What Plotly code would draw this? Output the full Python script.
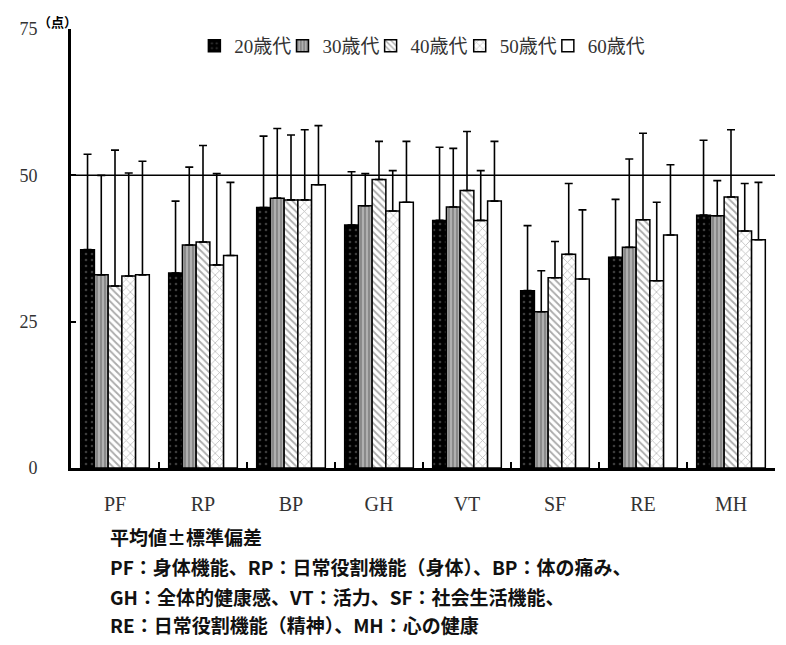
import plotly.graph_objects as go

categories = ["PF", "RP", "BP", "GH", "VT", "SF", "RE", "MH"]
age_groups = ["20歳代", "30歳代", "40歳代", "50歳代", "60歳代"]

mean_20s = [37.3, 33.3, 44.5, 41.5, 42.3, 30.3, 36.0, 43.2]
mean_30s = [33.0, 38.1, 46.1, 44.8, 44.6, 26.7, 37.7, 43.1]
mean_40s = [31.1, 38.6, 45.8, 49.3, 47.4, 32.5, 42.4, 46.3]
mean_50s = [32.8, 34.7, 45.8, 43.9, 42.3, 36.5, 32.0, 40.5]
mean_60s = [33.0, 36.3, 48.4, 45.4, 45.6, 32.3, 39.8, 39.0]

sd_20s = [16.3, 12.3, 12.2, 9.1, 12.5, 11.1, 9.9, 12.8]
sd_30s = [17.0, 13.3, 11.9, 5.5, 10.0, 7.0, 15.1, 6.0]
sd_40s = [23.2, 16.5, 11.1, 6.5, 10.1, 6.2, 14.8, 11.5]
sd_50s = [17.6, 15.6, 12.0, 6.9, 8.5, 12.1, 13.4, 8.1]
sd_60s = [19.4, 12.5, 10.1, 10.4, 10.2, 11.8, 12.0, 9.8]

y_ticks = [0, 25, 50, 75]
reference_line = 50
unit_label = "（点）"
note_lines = [
    "平均値±標準偏差",
    "PF：身体機能、RP：日常役割機能（身体）、BP：体の痛み、",
    "GH：全体的健康感、VT：活力、SF：社会生活機能、",
    "RE：日常役割機能（精神）、MH：心の健康",
]

means = [mean_20s, mean_30s, mean_40s, mean_50s, mean_60s]
sds = [sd_20s, sd_30s, sd_40s, sd_50s, sd_60s]

patterns = [
    dict(shape=".", bgcolor="#000000", fgcolor="#777777", size=6, solidity=0.15),
    dict(shape="|", bgcolor="#b0b0b0", fgcolor="#404040", size=4, solidity=0.35),
    dict(shape="\\", bgcolor="#ffffff", fgcolor="#555555", size=5, solidity=0.35),
    dict(shape="x", bgcolor="#ffffff", fgcolor="#7a7a7a", size=6, solidity=0.25),
    dict(shape="", bgcolor="#ffffff", fgcolor="#ffffff"),
]
fill = ["#000000", "#b0b0b0", "#ffffff", "#ffffff", "#ffffff"]

# the page body adds an 8px margin, so the figure is drawn 8px smaller and
# every target position (in screenshot pixels) is shifted by that offset
PAGE = 8
W, H = 786 - PAGE, 645 - PAGE
ML, MT = 56 - PAGE, 26 - PAGE
MR = W - (775 - PAGE)
MB = H - (468 - PAGE)
PW, PH = W - ML - MR, H - MT - MB


def px_x(px):
    return (px - PAGE - ML) / PW


def px_y(py):
    return (H - MB - (py - PAGE)) / PH


legend_left_px = [182, 272, 362, 453, 543]
legend_ids = ["legend", "legend2", "legend3", "legend4", "legend5"]

fig = go.Figure()
for name, m, s, pat, col, lid in zip(age_groups, means, sds, patterns, fill, legend_ids):
    fig.add_trace(go.Bar(
        name=name, x=categories, y=m, legend=lid,
        marker=dict(color=col, pattern=pat, line=dict(color="#000000", width=1.5)),
        error_y=dict(type="data", array=s, arrayminus=[0] * len(s), symmetric=False,
                     color="#000000", thickness=1.6, width=4),
    ))

fig.add_hline(y=reference_line, line=dict(color="#000000", width=1.5))

annotations = [dict(text="<b>" + unit_label + "</b>", x=px_x(20), y=px_y(18),
                    xref="paper", yref="paper",
                    xanchor="left", yanchor="middle", showarrow=False,
                    font=dict(family="Noto Sans CJK JP", size=13, color="#000000"))]
note_y = [537, 567, 597, 626]
for line, py in zip(note_lines, note_y):
    annotations.append(dict(
        text="<b>" + line + "</b>", x=px_x(94), y=px_y(py),
        xref="paper", yref="paper", xanchor="left", yanchor="middle", showarrow=False,
        font=dict(family="Noto Sans CJK JP", size=19, color="#111111")))

legend_style = dict(orientation="h", xanchor="left", yanchor="middle", y=px_y(43),
                    font=dict(family="Liberation Serif, Noto Sans CJK JP", size=19,
                              color="#333333"),
                    bgcolor="rgba(0,0,0,0)")
legends = {lid: dict(legend_style, x=px_x(lx)) for lid, lx in zip(legend_ids, legend_left_px)}

fig.update_layout(
    width=W, height=H,
    margin=dict(l=ML, r=MR, t=MT, b=MB),
    paper_bgcolor="#ffffff", plot_bgcolor="#ffffff",
    barmode="group", bargap=0.22, bargroupgap=0,
    font=dict(family="Liberation Serif, Noto Sans CJK JP", color="#222222"),
    showlegend=True,
    annotations=annotations,
    xaxis=dict(showline=True, linecolor="#000000", linewidth=3, ticks="inside",
               tickson="boundaries", ticklen=6, tickwidth=2, tickcolor="#000000",
               showgrid=False, ticklabelstandoff=16,
               tickfont=dict(family="Liberation Serif", size=20, color="#333333")),
    yaxis=dict(range=[0, 75], tickvals=y_ticks, showline=True, linecolor="#000000",
               linewidth=3, ticks="inside", ticklen=5, tickwidth=2, tickcolor="#000000",
               showgrid=False, zeroline=False, ticklabelstandoff=27,
               tickfont=dict(family="Liberation Serif", size=18, color="#333333")),
    **legends,
)

fig.write_html("out.html")
